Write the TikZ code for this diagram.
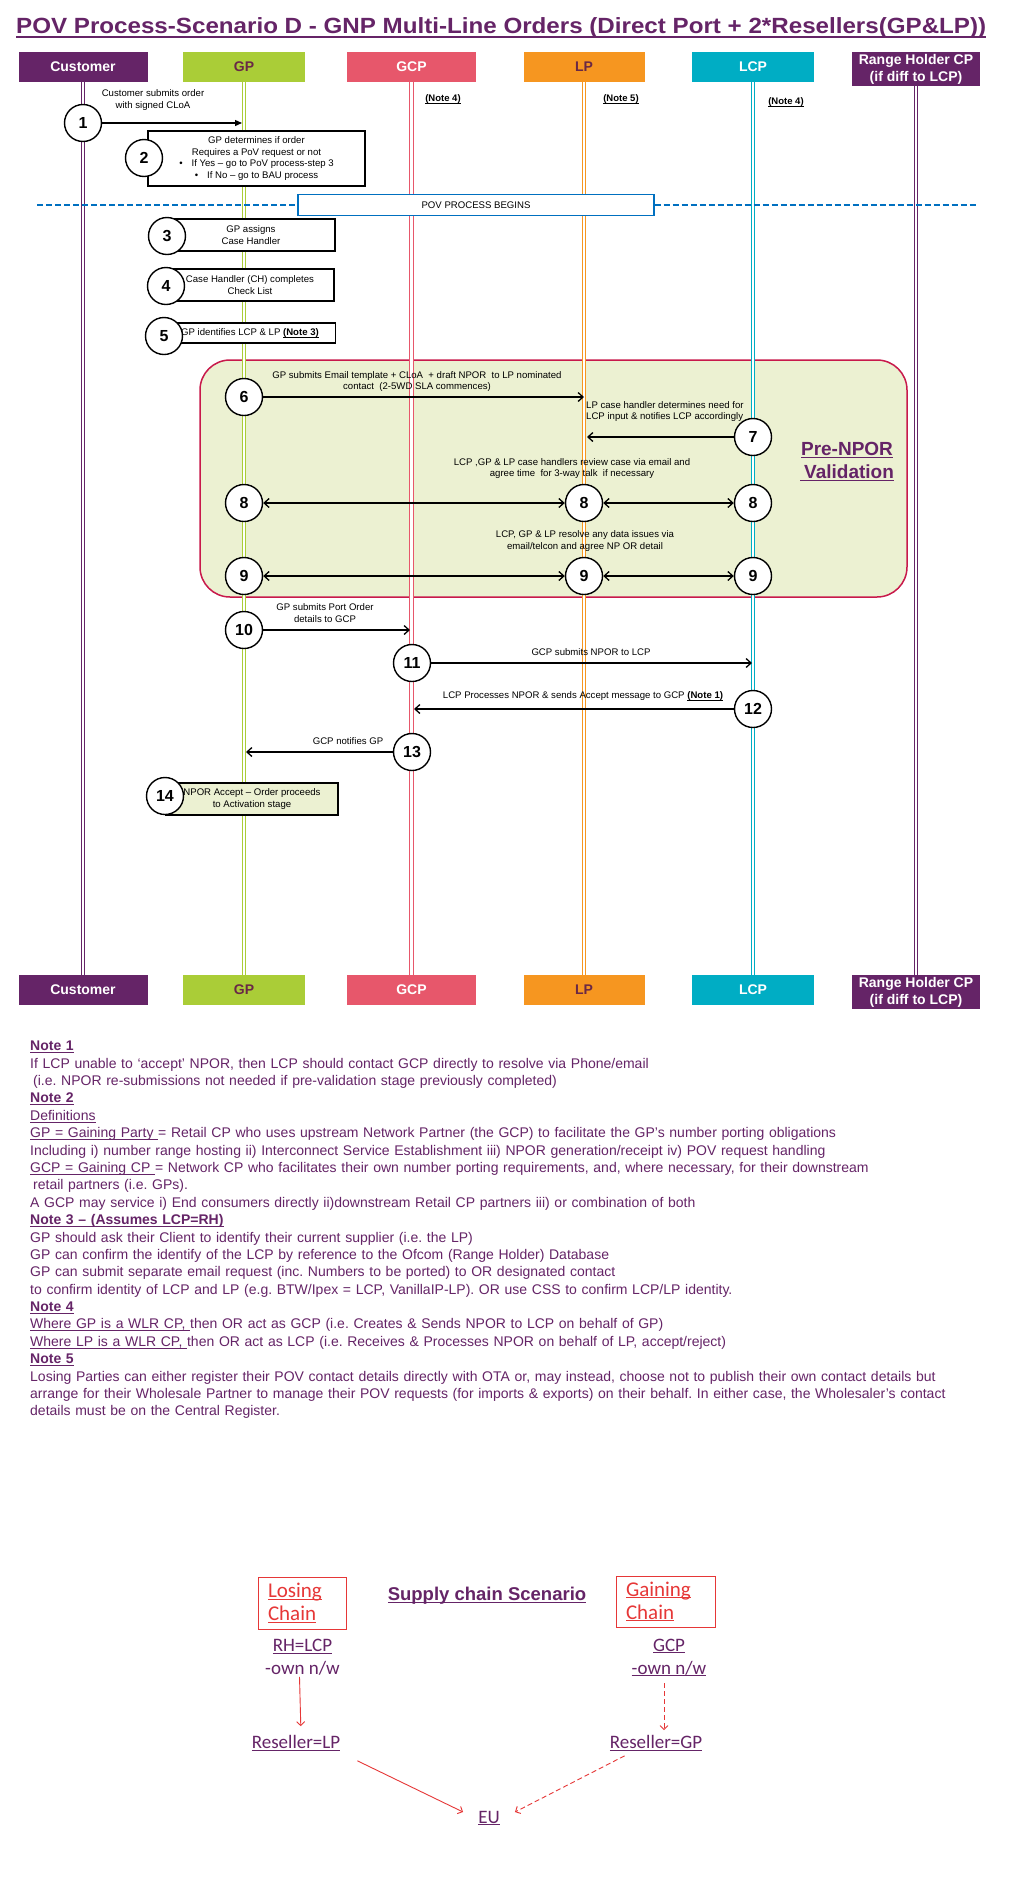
\documentclass[tikz,border=0pt]{standalone}
\usepackage{fontspec}
\usepackage{graphicx}
\setmainfont{Liberation Sans}
\newfontfamily\calibri{Carlito}
\usetikzlibrary{positioning,arrows.meta}
\frenchspacing

\definecolor{cCust}{RGB}{101,36,103}
\definecolor{cGP}{RGB}{170,205,55}
\definecolor{cGCP}{RGB}{231,87,107}
\definecolor{cLP}{RGB}{246,150,32}
\definecolor{cLCP}{RGB}{0,173,196}
\definecolor{cDark}{RGB}{105,40,70}
\definecolor{cBlue}{RGB}{0,112,192}
\definecolor{cCrim}{RGB}{200,25,75}
\definecolor{cPale}{RGB}{236,241,210}
\definecolor{cRed}{RGB}{230,55,55}

\newcommand{\smallf}{\fontsize{9.6}{11.4}\selectfont}
\newcommand{\notef}{\fontsize{14}{17.38}\selectfont}
\newcommand{\hdrf}{\fontsize{14}{17}\selectfont\bfseries}
\newcommand{\numf}{\fontsize{16}{19}\selectfont\bfseries}
\newcommand{\chainf}{\fontsize{19}{23}\selectfont\calibri}
% underline sitting just under the baseline, height kept
\newcommand{\uln}[1]{\underline{\raisebox{0pt}[\height][0pt]{#1}}}

\begin{document}
\begin{tikzpicture}[x=1pt,y=-1pt,
    hdr/.style={minimum height=30pt, inner sep=0pt, font=\hdrf, text=white},
    life/.style={line width=1.2pt, double=white, double distance=2.2pt},
    stepc/.style={circle, draw, fill=white, line width=1.4pt, minimum size=37pt, inner sep=0pt, font=\numf},
    stepbox/.style={draw, fill=white, line width=1.2pt, inner sep=0pt, align=center, font=\smallf},
    lbl/.style={inner sep=0pt, align=center, font=\smallf},
    msg/.style={line width=1.3pt, -{Straight Barb[length=5pt,width=9pt]}},
    dmsg/.style={line width=1.3pt, {Straight Barb[length=5pt,width=9pt]}-{Straight Barb[length=5pt,width=9pt]}},
    notelbl/.style={inner sep=0pt, font=\fontsize{9.5}{11}\selectfont\bfseries},
    dashline/.style={cBlue, line width=1.5pt, dash pattern=on 6pt off 3pt},
    chain/.style={inner sep=1pt, align=center, font=\chainf, text=cCust},
    redarr/.style={cRed, line width=0.9pt, -{Straight Barb[length=4pt,width=8pt]}},
    chainbox/.style={draw=cRed, line width=1pt, align=left, inner xsep=10pt, inner ysep=0pt, font=\fontsize{21}{23}\selectfont\calibri, text=cRed}
]
    \fill[white] (0,0) rectangle (1024,1877);
    \useasboundingbox (0,0) rectangle (1024,1877);

    % title
    \node[anchor=base west, inner sep=0pt, text=cCust] (title) at (16,33) {\resizebox{970pt}{\height}{\fontsize{22}{26}\selectfont\bfseries POV Process-Scenario D - GNP Multi-Line Orders (Direct Port + 2*Resellers(GP\&LP))}};
    \draw[cCust, line width=1.8pt] ([yshift=-4pt]title.base west) -- ([yshift=-4pt]title.base east);

    % pre-NPOR validation area
    \draw[draw=cCrim, fill=cPale, line width=1.5pt, rounded corners=30pt] (200,360) rectangle (907,597);

    % parties, top and bottom
    \node[hdr, fill=cCust, minimum width=129pt] (custT) at (83,67) {Customer};
    \node[hdr, fill=cGP, text=cDark, minimum width=122pt] (gpT) at (244,67) {GP};
    \node[hdr, fill=cGCP, minimum width=129pt] (gcpT) at (411.5,67) {GCP};
    \node[hdr, fill=cLP, text=cDark, minimum width=121pt] (lpT) at (584,67) {LP};
    \node[hdr, fill=cLCP, minimum width=122pt] (lcpT) at (753,67) {LCP};
    \node[hdr, fill=cCust, minimum width=128pt, minimum height=34pt, align=center] (rhT) at (916,69) {Range Holder CP\\(if diff to LCP)};

    \node[hdr, fill=cCust, minimum width=129pt] (custB) at (83,990) {Customer};
    \node[hdr, fill=cGP, text=cDark, minimum width=122pt] (gpB) at (244,990) {GP};
    \node[hdr, fill=cGCP, minimum width=129pt] (gcpB) at (411.5,990) {GCP};
    \node[hdr, fill=cLP, text=cDark, minimum width=121pt] (lpB) at (584,990) {LP};
    \node[hdr, fill=cLCP, minimum width=122pt] (lcpB) at (753,990) {LCP};
    \node[hdr, fill=cCust, minimum width=128pt, minimum height=34pt, align=center] (rhB) at (916,992) {Range Holder CP\\(if diff to LCP)};

    % lifelines
    \draw[life, draw=cCust] (custT.south) -- (custB.north);
    \draw[life, draw=cGP] (gpT.south) -- (gpB.north);
    \draw[life, draw=cGCP] (gcpT.south) -- (gcpB.north);
    \draw[life, draw=cLP] (lpT.south) -- (lpB.north);
    \draw[life, draw=cLCP] (lcpT.south) -- (lcpB.north);
    \draw[life, draw=cCust] (rhT.south) -- (rhB.north);

    \node[notelbl] (n4a) at (443,99) {\uln{(Note 4)}};
    \node[notelbl] (n5) at (621,99) {\uln{(Note 5)}};
    \node[notelbl] (n4b) at (786,102) {\uln{(Note 4)}};

    % step 1
    \node[lbl] (l1) at (153,100) {Customer submits order\\with signed CLoA};
    \node[stepc] (s1) at (83,123) {1};
    \coordinate (e1) at (242,123);
    \draw[line width=1.3pt, -{Triangle[length=7pt,width=6pt]}] (s1) -- (e1);

    % step 2
    \node[stepbox, minimum width=217pt, minimum height=55pt] (b2) at (256.5,158.5) {GP determines if order\\Requires a PoV request or not\\•\hspace{9pt}If Yes – go to PoV process-step 3\\•\hspace{9pt}If No – go to BAU process};
    \node[stepc] (s2) at (144,158) {2};

    % start of POV process
    \node[draw=cBlue, line width=1.3pt, fill=white, minimum width=356pt, minimum height=21pt, inner sep=0pt, font=\smallf] (pov) at (476,205) {POV PROCESS BEGINS};
    \coordinate (dl) at (37,205);
    \coordinate (dr) at (977,205);
    \draw[dashline] (dl) -- (pov.west);
    \draw[dashline] (pov.east) -- (dr);

    % steps 3 to 5
    \node[stepbox, minimum width=168pt, minimum height=32pt] (b3) at (251,235) {GP assigns\\Case Handler};
    \node[stepc] (s3) at (167,236) {3};
    \node[stepbox, minimum width=168pt, minimum height=32pt] (b4) at (250,285) {Case Handler (CH) completes\\Check List};
    \node[stepc] (s4) at (166,286) {4};
    \node[stepbox, minimum width=171pt, minimum height=20pt] (b5) at (250,333) {GP identifies LCP \& LP \textbf{\uln{(Note 3)}}};
    \node[stepc] (s5) at (164,336) {5};

    \node[inner sep=0pt, align=center, text=cCust, font=\fontsize{19}{23}\selectfont\bfseries] (pre) at (847,461.5) {\uln{Pre-NPOR}\\\uln{\hspace{4pt}Validation}};

    % step 6
    \node[lbl] (l6) at (417,381.5) {GP submits Email template + CLoA~ + draft NPOR~ to LP nominated\\contact~ (2-5WD SLA commences)};
    \node[stepc] (s6) at (244,397) {6};
    \coordinate (e6) at (584,397);
    \draw[msg] (s6) -- (e6);

    % step 7
    \node[lbl, align=left, anchor=west] (l7) at (586,411.5) {LP case handler determines need for\\LCP input \& notifies LCP accordingly};
    \node[stepc] (s7) at (753,437) {7};
    \coordinate (e7) at (587,437);
    \draw[msg] (s7) -- (e7);

    % step 8
    \node[lbl] (l8) at (572,468.5) {LCP ,GP \& LP case handlers review case via email and\\agree time~ for 3-way talk~ if necessary};
    \node[stepc] (s8a) at (244,503) {8};
    \node[stepc] (s8b) at (584,503) {8};
    \node[stepc] (s8c) at (753,503) {8};
    \draw[dmsg] (s8a) -- (s8b);
    \draw[dmsg] (s8b) -- (s8c);

    % step 9
    \node[lbl] (l9) at (585,541) {LCP, GP \& LP resolve any data issues via\\email/telcon and agree NP OR detail};
    \node[stepc] (s9a) at (244,576) {9};
    \node[stepc] (s9b) at (584,576) {9};
    \node[stepc] (s9c) at (753,576) {9};
    \draw[dmsg] (s9a) -- (s9b);
    \draw[dmsg] (s9b) -- (s9c);

    % steps 10 to 13
    \node[lbl] (l10) at (325,613) {GP submits Port Order\\details to GCP};
    \node[stepc] (s10) at (244,630) {10};
    \coordinate (e10) at (410,630);
    \draw[msg] (s10) -- (e10);

    \node[lbl] (l11) at (591,652) {GCP submits NPOR to LCP};
    \node[stepc] (s11) at (412,663) {11};
    \coordinate (e11) at (752,663);
    \draw[msg] (s11) -- (e11);

    \node[lbl] (l12) at (583,696) {LCP Processes NPOR \& sends Accept message to GCP \textbf{\uln{(Note 1)}}};
    \node[stepc] (s12) at (753,709) {12};
    \coordinate (e12) at (414,709);
    \draw[msg] (s12) -- (e12);

    \node[lbl] (l13) at (348,741) {GCP notifies GP};
    \node[stepc] (s13) at (412,752) {13};
    \coordinate (e13) at (246,752);
    \draw[msg] (s13) -- (e13);

    % step 14
    \node[stepbox, fill=cPale, minimum width=172pt, minimum height=32pt] (b14) at (252,799) {NPOR Accept – Order proceeds\\to Activation stage};
    \node[stepc] (s14) at (165,796) {14};

    % notes
    \node[anchor=north west, inner sep=0pt, text width=985pt, align=left, font=\notef, text=cCust] (notes) at (30,1041) {%
\textbf{\uln{Note 1}}\\
If LCP unable to ‘accept’ NPOR, then LCP should contact GCP directly to resolve via Phone/email\\
\hspace{3pt}(i.e. NPOR re-submissions not needed if pre-validation stage previously completed)\\
\textbf{\uln{Note 2}}\\
\uln{Definitions}\\
\uln{GP = Gaining Party~}= Retail CP who uses upstream Network Partner (the GCP) to facilitate the GP’s number porting obligations\\
Including i) number range hosting ii) Interconnect Service Establishment iii) NPOR generation/receipt iv) POV request handling\\
\uln{GCP = Gaining CP~}= Network CP who facilitates their own number porting requirements, and, where necessary, for their downstream\\
\hspace{3pt}retail partners (i.e. GPs).\\
A GCP may service i) End consumers directly ii)downstream Retail CP partners iii) or combination of both\\
\textbf{\uln{Note 3 – (Assumes LCP=RH)}}\\
GP should ask their Client to identify their current supplier (i.e. the LP)\\
GP can confirm the identify of the LCP by reference to the Ofcom (Range Holder) Database\\
GP can submit separate email request (inc. Numbers to be ported) to OR designated contact\\
to confirm identity of LCP and LP (e.g. BTW/Ipex = LCP, VanillaIP-LP). OR use CSS to confirm LCP/LP identity.\\
\textbf{\uln{Note 4}}\\
\uln{Where GP is a WLR CP,~}then OR act as GCP (i.e. Creates \& Sends NPOR to LCP on behalf of GP)\\
\uln{Where LP is a WLR CP,~}then OR act as LCP (i.e. Receives \& Processes NPOR on behalf of LP, accept/reject)\\
\textbf{\uln{Note 5}}\\
Losing Parties can either register their POV contact details directly with OTA or, may instead, choose not to publish their own contact details but\\
arrange for their Wholesale Partner to manage their POV requests (for imports \& exports) on their behalf. In either case, the Wholesaler’s contact\\
details must be on the Central Register.};

    % supply chain scenario
    \node[chainbox, text width=68pt, minimum height=52pt] (lose) at (302,1603) {\uln{Losing}\\\uln{Chain}};
    \node[chainbox, text width=79pt, minimum height=51pt] (gain) at (665.5,1601.5) {\uln{Gaining}\\\uln{Chain}};
    \node[inner sep=0pt, text=cCust, font=\fontsize{18.5}{22}\selectfont\bfseries] (scen) at (487,1595) {\uln{Supply chain Scenario}};

    \node[chain] (rhl) at (302.5,1657.5) {\uln{RH=LCP}\\-own n/w};
    \node[chain] (gcpc) at (669,1657.5) {\uln{GCP}\\\uln{-own n/w}};
    \node[chain] (resl) at (296,1743) {\uln{Reseller=LP}};
    \node[chain] (resg) at (656,1743) {\uln{Reseller=GP}};
    \node[chain] (eu) at (489,1818) {\uln{EU}};

    \draw[redarr, shorten >=8pt] ([xshift=-3pt]rhl.south) -- ([xshift=5pt]resl.north);
    \draw[redarr, dash pattern=on 5pt off 3pt, shorten <=6pt, shorten >=4pt] ([xshift=-5pt]gcpc.south) -- ([xshift=8pt]resg.north);
    \draw[redarr] ([xshift=16pt,yshift=-9pt]resl.south east) -- ([xshift=-14pt,yshift=6pt]eu.west);
    \draw[redarr, dash pattern=on 5pt off 3pt] ([xshift=16pt,yshift=-4pt]resg.south west) -- ([xshift=14pt,yshift=6pt]eu.east);
\end{tikzpicture}
\end{document}
